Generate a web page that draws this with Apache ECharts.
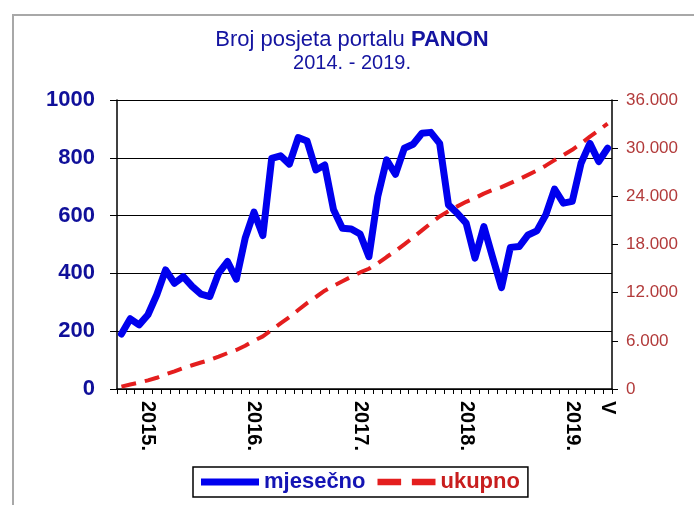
<!DOCTYPE html>
<html>
<head>
<meta charset="utf-8">
<script src="https://cdn.jsdelivr.net/npm/echarts@6/dist/echarts.min.js"></script>
<style>
    html, body { margin: 0; padding: 0; background: #fff; }
    #main { width: 694px; height: 505px; }
</style>
</head>
<body>
<div id="main"></div>
<script>
    // mjeseci: 10.2014 - 5.2019
    var months = ['10.2014', '11.2014', '12.2014',
        '1.2015', '2.2015', '3.2015', '4.2015', '5.2015', '6.2015', '7.2015', '8.2015', '9.2015', '10.2015', '11.2015', '12.2015',
        '1.2016', '2.2016', '3.2016', '4.2016', '5.2016', '6.2016', '7.2016', '8.2016', '9.2016', '10.2016', '11.2016', '12.2016',
        '1.2017', '2.2017', '3.2017', '4.2017', '5.2017', '6.2017', '7.2017', '8.2017', '9.2017', '10.2017', '11.2017', '12.2017',
        '1.2018', '2.2018', '3.2018', '4.2018', '5.2018', '6.2018', '7.2018', '8.2018', '9.2018', '10.2018', '11.2018', '12.2018',
        '1.2019', '2.2019', '3.2019', '4.2019', '5.2019'];

    var tickMonths = ['1.2015', '1.2016', '1.2017', '1.2018', '1.2019', '5.2019'];
    var tickLabels = ['2015.', '2016.', '2017.', '2018.', '2019.', 'V'];

    // mjesečno (lijeva os)
    var monthly = [190, 243, 222, 257, 326, 412, 366, 389, 355, 328,
        320, 401, 441, 380, 522, 612, 531, 798, 807, 778,
        870, 858, 758, 775, 620, 556, 554, 536, 458, 666,
        793, 743, 833, 847, 885, 888, 850, 637, 608, 574,
        453, 562, 455, 351, 490, 493, 533, 547, 602, 692,
        643, 649, 781, 850, 787, 833];

    // ukupno (desna os)
    var total = [300, 560, 800, 1070, 1400, 1820, 2200, 2600, 2960, 3300,
        3620, 4030, 4470, 4860, 5390, 6010, 6550, 7360, 8180, 8960,
        9840, 10700, 11460, 12240, 12860, 13420, 13980, 14520, 14980, 15650,
        16440, 17190, 18020, 18870, 19760, 20650, 21500, 22140, 22750, 23320,
        23780, 24340, 24800, 25150, 25640, 26130, 26670, 27210, 27820, 28510,
        29150, 29800, 30580, 31430, 32220, 33060];

    var font = "'Liberation Sans', Arial, sans-serif";
    var myChart = echarts.init(document.getElementById('main'));

    var option = {
        backgroundColor: '#fff',
        animation: false,
        graphic: [
            {
                type: 'rect',
                shape: { x: 13, y: 15, width: 720, height: 520 },
                style: { fill: 'none', stroke: '#a8a8a8', lineWidth: 2 },
                silent: true
            },
            {
                type: 'text',
                x: 352, y: 40,
                style: {
                    text: '{n|Broj posjeta portalu }{b|PANON}',
                    align: 'center', verticalAlign: 'middle',
                    rich: {
                        n: { fontFamily: font, fontSize: 22, fill: '#1414a0' },
                        b: { fontFamily: font, fontSize: 22, fontWeight: 'bold', fill: '#1414a0' }
                    }
                }
            },
            {
                type: 'text',
                x: 352, y: 63,
                style: {
                    text: '2014. - 2019.',
                    align: 'center', verticalAlign: 'middle',
                    fontFamily: font, fontSize: 20, fill: '#1414a0'
                }
            }
        ],
        grid: {
            left: 117,
            right: 82,
            top: 100,
            bottom: 116,
            containLabel: false
        },
        legend: {
            left: 193,
            top: 467,
            padding: [4, 8, 4, 8],
            itemGap: 12,
            itemWidth: 58,
            itemHeight: 7,
            borderColor: '#000',
            borderWidth: 1.5,
            borderRadius: 0,
            data: [
                { name: 'mjesečno', icon: 'rect', textStyle: { color: '#1414b4' } },
                { name: 'ukupno', icon: 'path://M0,0H22V6H0Z M32,0H54V6H32Z', textStyle: { color: '#c81e1e' } }
            ],
            textStyle: { fontFamily: font, fontSize: 22, fontWeight: 'bold' }
        },
        xAxis: {
            type: 'category',
            data: months,
            boundaryGap: true,
            axisLine: { lineStyle: { color: '#000', width: 1.5 } },
            axisTick: { show: true, interval: 0, length: 5, lineStyle: { color: '#000' } },
            axisLabel: {
                interval: 0,
                rotate: -90,
                margin: 12,
                fontFamily: font,
                fontSize: 20,
                fontWeight: 'bold',
                color: '#000',
                formatter: function (v) {
                    var k = tickMonths.indexOf(v);
                    return k >= 0 ? tickLabels[k] : '';
                }
            },
            splitLine: { show: false }
        },
        yAxis: [
            {
                type: 'value',
                min: 0,
                max: 1000,
                interval: 200,
                position: 'left',
                axisLine: { show: true, lineStyle: { color: '#000', width: 1.5 } },
                axisTick: { show: true, length: 7, lineStyle: { color: '#000' } },
                axisLabel: {
                    margin: 22,
                    fontFamily: font,
                    fontSize: 22,
                    fontWeight: 'bold',
                    color: '#10109a',
                    formatter: function (v) {
                        return String(v);
                    }
                },
                splitLine: { show: true, lineStyle: { color: '#000', width: 1 } }
            },
            {
                type: 'value',
                min: 0,
                max: 36000,
                interval: 6000,
                position: 'right',
                axisLine: { show: true, lineStyle: { color: '#000', width: 1.5 } },
                axisTick: { show: true, length: 6, lineStyle: { color: '#000' } },
                axisLabel: {
                    margin: 14,
                    fontFamily: font,
                    fontSize: 17,
                    color: '#b23a3a',
                    formatter: function (v) {
                        return v === 0 ? '0' : (v / 1000) + '.000';
                    }
                },
                splitLine: { show: false }
            }
        ],
        series: [
            {
                name: 'mjesečno',
                type: 'line',
                yAxisIndex: 0,
                data: monthly,
                symbol: 'none',
                lineStyle: { color: '#0000ee', width: 7, join: 'round', cap: 'round' },
                itemStyle: { color: '#0000ee' }
            },
            {
                name: 'ukupno',
                type: 'line',
                yAxisIndex: 1,
                data: total,
                symbol: 'none',
                lineStyle: { color: '#e41e1e', width: 4, type: [15, 9] },
                itemStyle: { color: '#e41e1e' }
            }
        ]
    };
    myChart.setOption(option);
</script>
</body>
</html>
